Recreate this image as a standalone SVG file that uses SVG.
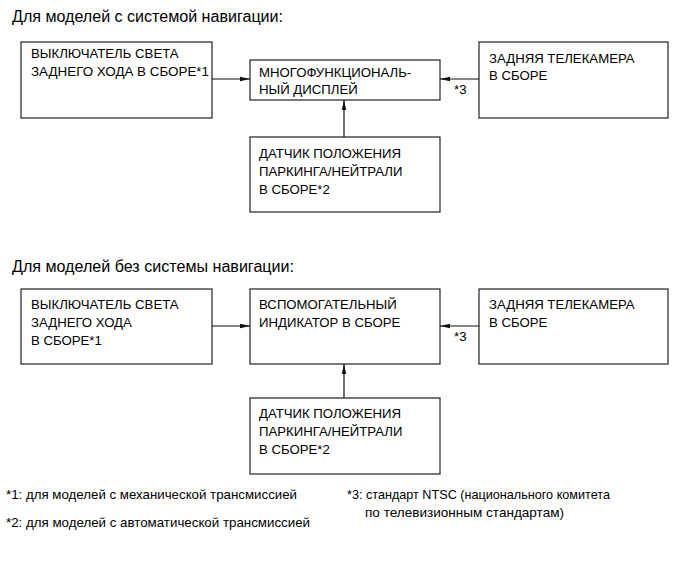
<svg xmlns="http://www.w3.org/2000/svg" width="691" height="562" viewBox="0 0 691 562">
<style>
text{font-family:"Liberation Sans",Arial,sans-serif;fill:#000}
.t{font-size:16px}
.b{font-size:13.2px}
.f{font-size:13px}
.box{fill:#fff;stroke:#222;stroke-width:1.2}
.c{stroke:#111;stroke-width:1.2;fill:none}
</style>
<defs>
<marker id="ah" viewBox="0 0 10 6" refX="10" refY="3" markerWidth="10" markerHeight="6" markerUnits="userSpaceOnUse" orient="auto">
<path d="M0,0.8 L10,3 L0,5.2 Z" fill="#111"/>
</marker>
</defs>
<rect width="691" height="562" fill="#fff"/>
<text class="t" x="12" y="22" textLength="271" lengthAdjust="spacingAndGlyphs">Для моделей с системой навигации:</text>
<text class="t" x="12" y="272" textLength="282" lengthAdjust="spacingAndGlyphs">Для моделей без системы навигации:</text>
<g id="n1"><rect class="box" x="21" y="42" width="191" height="76"/>
<text class="b" x="31" y="58">ВЫКЛЮЧАТЕЛЬ СВЕТА</text>
<text class="b" x="31" y="76" textLength="178" lengthAdjust="spacingAndGlyphs">ЗАДНЕГО ХОДА В СБОРЕ*1</text></g>
<g id="n2"><rect class="box" x="250" y="60" width="190" height="40"/>
<text class="b" x="259" y="77">МНОГОФУНКЦИОНАЛЬ-</text>
<text class="b" x="259" y="94">НЫЙ ДИСПЛЕЙ</text></g>
<g id="n3"><rect class="box" x="479" y="42" width="189" height="76"/>
<text class="b" x="489" y="63">ЗАДНЯЯ ТЕЛЕКАМЕРА</text>
<text class="b" x="489" y="80">В СБОРЕ</text></g>
<g id="n4"><rect class="box" x="250" y="137" width="190" height="75"/>
<text class="b" x="259" y="158">ДАТЧИК ПОЛОЖЕНИЯ</text>
<text class="b" x="259" y="176">ПАРКИНГА/НЕЙТРАЛИ</text>
<text class="b" x="259" y="194">В СБОРЕ*2</text></g>
<g id="n5"><rect class="box" x="21" y="289" width="191" height="75"/>
<text class="b" x="31" y="309">ВЫКЛЮЧАТЕЛЬ СВЕТА</text>
<text class="b" x="31" y="327">ЗАДНЕГО ХОДА</text>
<text class="b" x="31" y="345">В СБОРЕ*1</text></g>
<g id="n6"><rect class="box" x="250" y="289" width="190" height="75"/>
<text class="b" x="259" y="309">ВСПОМОГАТЕЛЬНЫЙ</text>
<text class="b" x="259" y="327">ИНДИКАТОР В СБОРЕ</text></g>
<g id="n7"><rect class="box" x="479" y="289" width="189" height="75"/>
<text class="b" x="489" y="309">ЗАДНЯЯ ТЕЛЕКАМЕРА</text>
<text class="b" x="489" y="327">В СБОРЕ</text></g>
<g id="n8"><rect class="box" x="250" y="398" width="190" height="76"/>
<text class="b" x="259" y="418">ДАТЧИК ПОЛОЖЕНИЯ</text>
<text class="b" x="259" y="436">ПАРКИНГА/НЕЙТРАЛИ</text>
<text class="b" x="259" y="454">В СБОРЕ*2</text></g>
<g id="connectors">
<line class="c" x1="212" y1="79" x2="250" y2="79" marker-end="url(#ah)"/>
<line class="c" x1="479" y1="79" x2="440" y2="79" marker-end="url(#ah)"/>
<line class="c" x1="344" y1="137" x2="344" y2="100" marker-end="url(#ah)"/>
<line class="c" x1="212" y1="326" x2="250" y2="326" marker-end="url(#ah)"/>
<line class="c" x1="479" y1="326" x2="440" y2="326" marker-end="url(#ah)"/>
<line class="c" x1="344" y1="398" x2="344" y2="364" marker-end="url(#ah)"/>
<text class="b" x="454" y="94">*3</text>
<text class="b" x="454" y="341">*3</text>
</g>
<g id="notes">
<text class="f" x="6" y="499" textLength="291" lengthAdjust="spacingAndGlyphs">*1: для моделей с механической трансмиссией</text>
<text class="f" x="6" y="527" textLength="304" lengthAdjust="spacingAndGlyphs">*2: для моделей с автоматической трансмиссией</text>
<text class="f" x="347" y="499" textLength="263" lengthAdjust="spacingAndGlyphs">*3: стандарт NTSC (национального комитета</text>
<text class="f" x="365" y="517" textLength="199" lengthAdjust="spacingAndGlyphs">по телевизионным стандартам)</text>
</g>
</svg>
